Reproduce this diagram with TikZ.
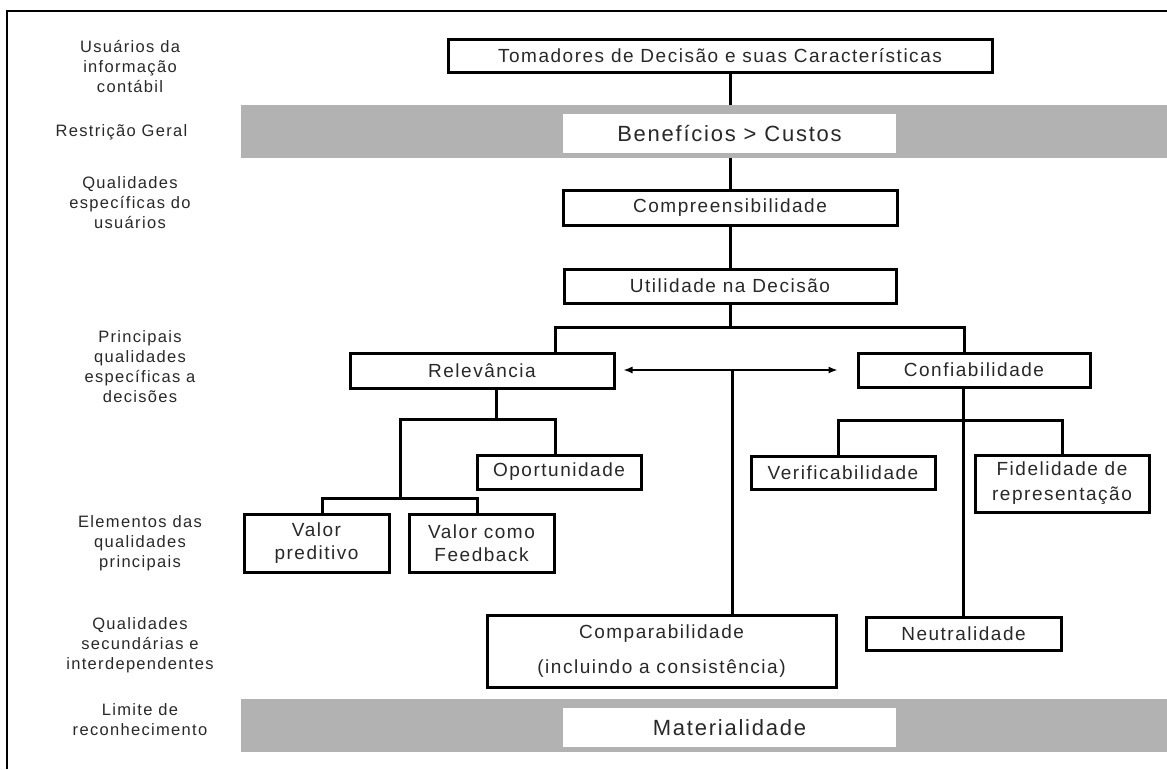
\documentclass[tikz,border=0pt]{standalone}
\usepackage{fontspec}
\setmainfont{Liberation Sans}
\newfontfamily\diagfont{Liberation Sans}[LetterSpace=8]
\usetikzlibrary{arrows.meta}
\definecolor{bandgray}{RGB}{178,178,178}
\definecolor{inkgray}{RGB}{40,40,40}
\newcommand\boxtext{\diagfont\fontsize{19}{23}\selectfont}
\newcommand\bigtext{\diagfont\fontsize{22}{26}\selectfont}
\newcommand\sidetext{\diagfont\fontsize{16.5}{20}\selectfont}

\begin{document}
\begin{tikzpicture}[x=1pt,y=-1pt,
  box/.style={draw=black, line width=3pt, fill=white, inner sep=0pt, align=center, font=\boxtext, text=inkgray},
  band/.style={fill=bandgray, inner sep=0pt, minimum width=926pt, minimum height=53pt},
  whitebox/.style={fill=white, inner sep=0pt, minimum width=333pt, minimum height=39pt, font=\bigtext, text=inkgray},
  side/.style={align=center, font=\sidetext, inner sep=0pt, text=inkgray},
  conn/.style={line width=3pt},
  dbl/.style={line width=1.4pt, {Latex[length=9pt,width=7pt]}-{Latex[length=9pt,width=7pt]}}]

\useasboundingbox (0,0) rectangle (1167,769);

% outer frame
\draw[line width=2pt] (7,769) -- (7,11) -- (1167,11);

% side captions
\node[side] (l1) at (130,67) {Usuários da\\informação\\contábil};
\node[side] (l2) at (121.5,132) {Restrição Geral};
\node[side] (l3) at (130,203) {Qualidades\\específicas do\\usuários};
\node[side] (l4) at (140,366.5) {Principais\\qualidades\\específicas a\\decisões};
\node[side] (l5) at (140,543) {Elementos das\\qualidades\\principais};
\node[side] (l6) at (140,645) {Qualidades\\secundárias e\\interdependentes};
\node[side] (l7) at (140,719.5) {Limite de\\reconhecimento};

% bus coordinates
\coordinate (b1l) at (555,327);
\coordinate (b1r) at (964,327);
\coordinate (b2m) at (496,419);
\coordinate (b2l) at (400,419);
\coordinate (b2r) at (555,419);
\coordinate (b3m) at (400,498);
\coordinate (b3l) at (322,498);
\coordinate (b3r) at (477,498);
\coordinate (b4l) at (838,420);
\coordinate (b4r) at (1062,420);
\coordinate (mid) at (732,370);

% boxes
\node[box, minimum width=544pt, minimum height=33pt] (tom) at (720,55.5) {Tomadores de Decisão e suas Características};
\node[band] (band1) at (704,131.5) {};
\node[box, minimum width=334pt, minimum height=35pt] (compr) at (730,207.5) {Compreensibilidade};
\node[box, minimum width=332pt, minimum height=34pt] (util) at (730,286) {Utilidade na Decisão};
\node[box, minimum width=264pt, minimum height=35pt] (relev) at (482,370.5) {Relevância};
\node[box, minimum width=232pt, minimum height=34pt] (conf) at (974,370) {Confiabilidade};
\node[box, minimum width=164pt, minimum height=34pt] (oport) at (559,472) {Oportunidade};
\node[box, minimum width=184pt, minimum height=33pt] (verif) at (843,472.5) {Verificabilidade};
\node[box, minimum width=174pt, minimum height=57pt] (fidel) at (1062,483.5) {Fidelidade de\\[2pt]representação};
\node[box, minimum width=145pt, minimum height=58pt] (vpred) at (316.5,543) {Valor\\preditivo};
\node[box, minimum width=145pt, minimum height=58pt] (vfeed) at (481.5,543) {Valor como\\Feedback};
\node[box, minimum width=349pt, minimum height=72pt] (compar) at (661.5,651) {Comparabilidade\\[12pt](incluindo a consistência)};
\node[box, minimum width=195pt, minimum height=33pt] (neutr) at (963.5,633.5) {Neutralidade};
\node[band] (band2) at (704,725.5) {};

% connectors
\draw[conn] (compr.north |- tom.south) -- (compr.north |- band1.north);
\draw[conn] (compr.north |- band1.south) -- (compr.north);
\draw[conn] (compr.south) -- (util.north);
\draw[conn] (util.south) -- (util.south |- b1l);
\draw[conn] (b1l |- relev.north) -- (b1l) -- (b1r) -- (b1r |- conf.north);
\draw[conn] (b2m |- relev.south) -- (b2m);
\draw[conn] (b2r |- oport.north) -- (b2r) -- (b2l) -- (b3m);
\draw[conn] (b3l |- vpred.north) -- (b3l) -- (b3r) -- (b3r |- vfeed.north);
\draw[conn] (neutr.north |- conf.south) -- (neutr.north);
\draw[conn] (b4l |- verif.north) -- (b4l) -- (b4r) -- (fidel.north);
\draw[conn] (mid) -- (mid |- compar.north);
\draw[dbl] ([xshift=8pt]relev.east |- mid) -- ([xshift=-19pt]conf.west |- mid);

% white panels inside the grey bands
\node[whitebox] (benef) at (729.5,133.5) {Benefícios > Custos};
\node[whitebox] (mater) at (729.5,727.5) {Materialidade};

\end{tikzpicture}
\end{document}
